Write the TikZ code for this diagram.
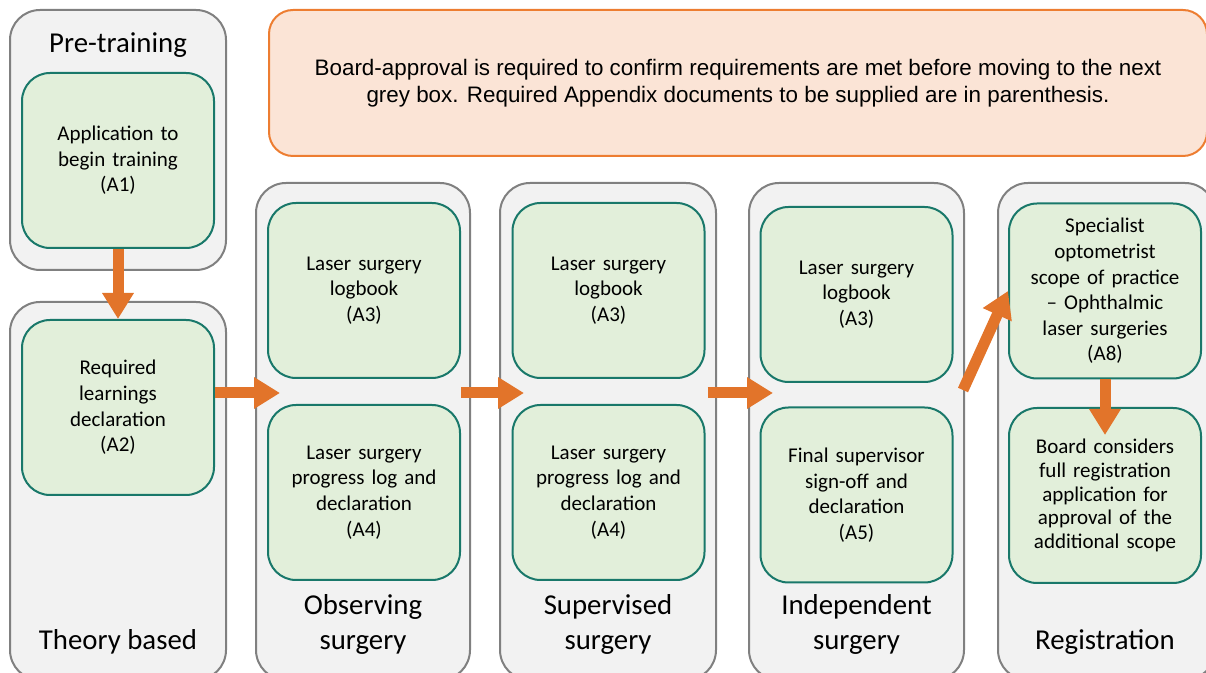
\documentclass[tikz,border=0pt]{standalone}
\usepackage{fontspec}
\setmainfont{Carlito}
\newfontfamily\notefont{Liberation Sans}
\usetikzlibrary{arrows.meta}
\definecolor{greyfill}{HTML}{F2F2F2}
\definecolor{greyline}{HTML}{808080}
\definecolor{greenfill}{HTML}{E2EFDA}
\definecolor{greenline}{HTML}{19786A}
\definecolor{notefill}{HTML}{FBE4D6}
\definecolor{noteline}{HTML}{ED7D31}
\definecolor{arrowor}{HTML}{E2742A}
\tikzset{
  stage/.style={draw=greyline, fill=greyfill, line width=1pt, rounded corners=15pt, inner sep=0pt},
  doc/.style={draw=greenline, fill=greenfill, line width=1pt, rounded corners=14pt, inner sep=0pt,
    minimum width=96pt, minimum height=87.5pt, align=center, text width=92pt,
    font=\fontsize{10.5}{12.8}\selectfont},
  title/.style={align=center, font=\fontsize{14.4}{17.5}\selectfont},
  flow/.style={draw=arrowor, line width=5.5pt, -{Triangle[width=15pt,length=13pt]}}
}
\begin{document}
\begin{tikzpicture}[x=0.5pt,y=-0.5pt]
\useasboundingbox (0,0) rectangle (1206,673);

% grey stage boxes
\node[stage, minimum width=108pt, minimum height=130pt] (pre) at (118,140) {};
\node[stage, minimum width=108pt, minimum height=189pt] (theory) at (118,491) {};
\node[stage, minimum width=107pt, minimum height=248.5pt] (obs) at (363,431.5) {};
\node[stage, minimum width=108pt, minimum height=248.5pt] (sup) at (608,431.5) {};
\node[stage, minimum width=107.5pt, minimum height=248.5pt] (ind) at (856.5,431.5) {};
\node[stage, minimum width=108.5pt, minimum height=248.5pt] (reg) at (1106.5,431.5) {};

% note
\node[draw=noteline, fill=notefill, line width=1pt, rounded corners=12pt,
  minimum width=469pt, minimum height=73pt, align=center,
  font=\notefont\fontsize{11.2}{13.5}\selectfont] (note) at (738,83)
  {Board-approval is required to confirm requirements are met before moving to the next\\
   grey box. Required Appendix documents to be supplied are in parenthesis.};

% stage titles
\node[title] (pretitle) at (118,45) {Pre-training};
\node[title] (theorytitle) at (118,642) {Theory based};
\node[title] (obstitle) at (363,624.5) {Observing\\surgery};
\node[title] (suptitle) at (608,624.5) {Supervised\\surgery};
\node[title] (indtitle) at (856.5,624.5) {Independent\\surgery};
\node[title] (regtitle) at (1105,642) {Registration};

% documents
\node[doc] (a1) at (118,160.5) {Application to\\begin training\\(A1)};
\node[doc] (a2) at (118,407.5) {Required\\learnings\\declaration\\(A2)};
\node[doc] (oa3) at (364,290.5) {Laser surgery\\logbook\\(A3)};
\node[doc] (oa4) at (364,492.5) {Laser surgery\\progress log and\\declaration\\(A4)};
\node[doc] (sa3) at (608.5,290.5) {Laser surgery\\logbook\\(A3)};
\node[doc] (sa4) at (608.5,492.5) {Laser surgery\\progress log and\\declaration\\(A4)};
\node[doc] (ia3) at (856.5,294.5) {Laser surgery\\logbook\\(A3)};
\node[doc] (ia5) at (856.5,495) {Final supervisor\\sign-off and\\declaration\\(A5)};
\node[doc] (a8) at (1105,291) {Specialist\\optometrist\\scope of practice\\-- Ophthalmic\\laser surgeries\\(A8)};
\node[doc, font=\fontsize{10.5}{11.8}\selectfont] (board) at (1105,495.5)
  {Board considers\\full registration\\application for\\approval of the\\additional scope};

% arrows
\coordinate (obsin) at (280,393);
\coordinate (supin) at (524,393);
\coordinate (indin) at (773,393);
\coordinate (indout) at (963,390);
\draw[flow] (a1.south) -- (a2.north);
\draw[flow] (a2.east |- obsin) -- (obsin);
\draw[flow] (oa3.east |- supin) -- (supin);
\draw[flow] ([xshift=1pt]sa3.east |- indin) -- (indin);
\draw[flow] (indout) -- (a8.west);
\draw[flow] (a8.south) -- ([yshift=-14pt]board.north);

\end{tikzpicture}
\end{document}
